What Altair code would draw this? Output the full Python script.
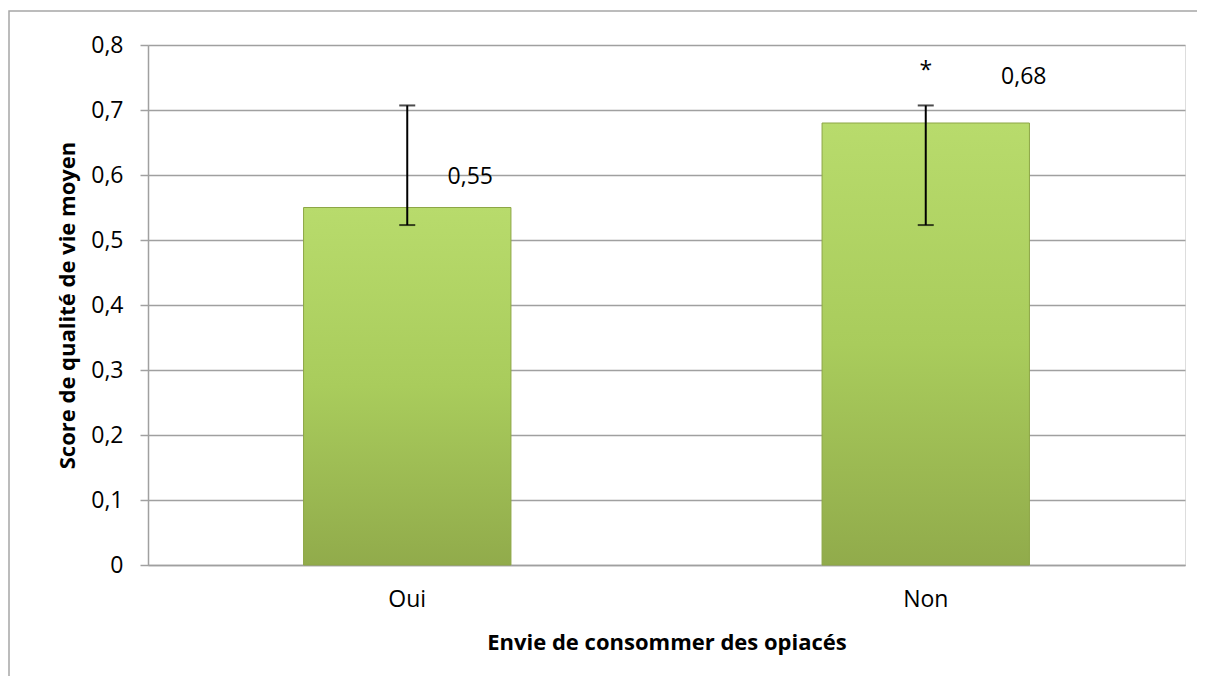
import altair as alt
import pandas as pd

categories = ["Oui", "Non"]
means = [0.55, 0.68]
err_low = [0.523, 0.523]
err_high = [0.707, 0.707]
labels = ["0,55", "0,68"]
signif = ["", "*"]

df = pd.DataFrame({
    "cat": categories,
    "mean": means,
    "lo": err_low,
    "hi": err_high,
    "label": labels,
    "sig": signif,
})

FONT = "Open Sans"

x_enc = alt.X(
    "cat:N",
    sort=categories,
    scale=alt.Scale(paddingInner=0, paddingOuter=0),
    axis=alt.Axis(
        title="Envie de consommer des opiacés",
        titleFont=FONT, titleFontSize=22, titleFontWeight="bold", titleColor="#000",
        titlePadding=21,
        labelFont=FONT, labelFontSize=23, labelColor="#000", labelPadding=23,
        labelAngle=0,
        ticks=False, domainColor="#a0a0a0", domainWidth=1.5, grid=False,
    ),
)

y_scale = alt.Scale(domain=[0, 0.8], nice=False)

bars = alt.Chart(df).mark_bar(
    width=alt.RelativeBandSize(0.4),
    color=alt.Gradient(
        gradient="linear",
        stops=[
            alt.GradientStop(color="#b8db6c", offset=0),
            alt.GradientStop(color="#a9cc5c", offset=0.5),
            alt.GradientStop(color="#91ab4b", offset=1),
        ],
        x1=0, x2=0, y1=0, y2=1,
    ),
    stroke="#8da646",
    strokeWidth=1,
).encode(
    x=x_enc,
    y=alt.Y(
        "mean:Q",
        scale=y_scale,
        axis=alt.Axis(
            title="Score de qualité de vie moyen",
            titleFont=FONT, titleFontSize=22, titleFontWeight="bold", titleColor="#000",
            titlePadding=11,
            labelFont=FONT, labelFontSize=23, labelColor="#000", labelPadding=17,
            values=[0, 0.1, 0.2, 0.3, 0.4, 0.5, 0.6, 0.7, 0.8],
            labelExpr="replace(format(datum.value, '.1~f'), '.', ',')",
            tickColor="#a0a0a0", tickSize=8, tickWidth=1.5,
            domainColor="#a0a0a0", domainWidth=1.5,
            gridColor="#a0a0a0", gridWidth=1.5,
        ),
    ),
)

err_rule = alt.Chart(df).mark_rule(color="#000", strokeWidth=2).encode(
    x=alt.X("cat:N", sort=categories),
    y="lo:Q",
    y2="hi:Q",
)

cap_hi = alt.Chart(df).mark_tick(color="#000", size=16, thickness=2, orient="horizontal").encode(
    x=alt.X("cat:N", sort=categories),
    y="hi:Q",
)
cap_lo = alt.Chart(df).mark_tick(color="#000", size=16, thickness=2, orient="horizontal").encode(
    x=alt.X("cat:N", sort=categories),
    y="lo:Q",
)

lbl_oui = alt.Chart(df).transform_filter(alt.datum.cat == "Oui").mark_text(
    font=FONT, fontSize=23, color="#000", dx=63, dy=-31, baseline="middle"
).encode(x=alt.X("cat:N", sort=categories), y="mean:Q", text="label:N")

lbl_non = alt.Chart(df).transform_filter(alt.datum.cat == "Non").mark_text(
    font=FONT, fontSize=23, color="#000", dx=98, dy=-46, baseline="middle"
).encode(x=alt.X("cat:N", sort=categories), y="mean:Q", text="label:N")

star = alt.Chart(df).mark_text(
    font=FONT, fontSize=23, color="#000", dy=-34, baseline="middle"
).encode(x=alt.X("cat:N", sort=categories), y="hi:Q", text="sig:N")

frame = alt.Chart(alt.Data(values=[{}])).mark_rect(
    fill=None, stroke="#a6a6a6", strokeWidth=1.5
).encode(
    x=alt.value(-139),
    x2=alt.value(1080),
    y=alt.value(-34),
    y2=alt.value(720),
)

chart = alt.layer(
    frame, bars, err_rule, cap_hi, cap_lo, lbl_oui, lbl_non, star
).properties(
    width=1037,
    height=520,
    autosize=alt.AutoSizeParams(type="none"),
    padding={"left": 140, "top": 37, "right": 12, "bottom": 111},
).configure_view(
    stroke=None
).configure(background="white")

chart.save("out.html", embed_options={"renderer": "svg", "actions": False})
